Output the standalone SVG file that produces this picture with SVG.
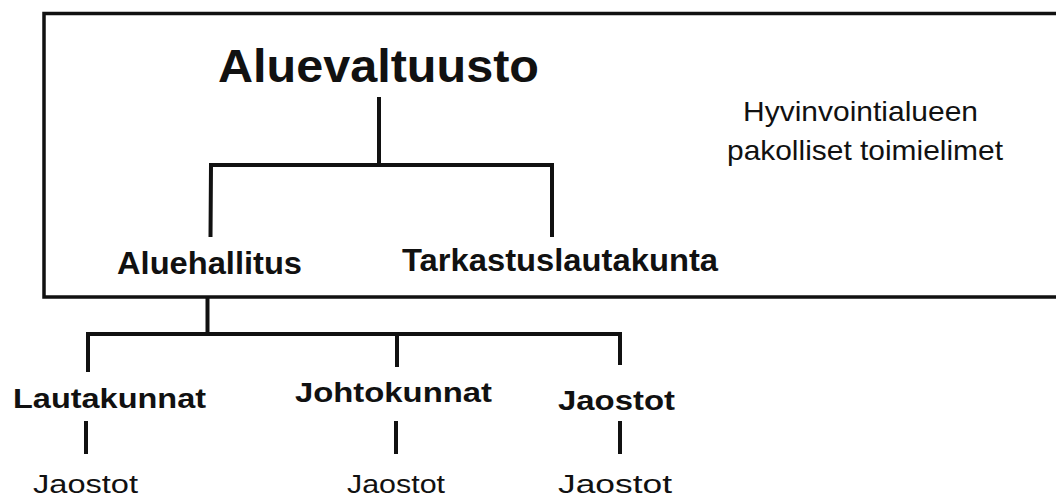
<svg xmlns="http://www.w3.org/2000/svg" width="1056" height="496" viewBox="0 0 1056 496">
<style>
.b{font-family:"Liberation Sans",Arial,Helvetica,sans-serif;font-weight:bold;fill:#111}
.r{font-family:"Liberation Sans",Arial,Helvetica,sans-serif;font-weight:normal;fill:#111}
.ln{stroke:#111;stroke-width:4;fill:none;stroke-linecap:butt;stroke-linejoin:miter}
.frame{stroke:#111;stroke-width:3.5;fill:none}
</style>
<rect width="1056" height="496" fill="#fff"/>
<g id="frame">
<rect class="frame" x="44" y="13.5" width="1100" height="283.5"/>
</g>
<g id="connectors">
<path class="ln" d="M379 97 V165"/>
<path class="ln" d="M210.5 237 L211 165 H552 V237"/>
<path class="ln" d="M207.5 297 V334"/>
<path class="ln" d="M88 372 V334 H620 V365"/>
<path class="ln" d="M397 334 V367"/>
<path class="ln" d="M86 421 V454"/>
<path class="ln" d="M396 421 V454"/>
<path class="ln" d="M620 421 V454"/>
</g>
<g id="aluevaltuusto"><text class="b" x="218" y="82" font-size="46" textLength="321" lengthAdjust="spacingAndGlyphs">Aluevaltuusto</text></g>
<g id="aluehallitus"><text class="b" x="117" y="274" font-size="31" textLength="185" lengthAdjust="spacingAndGlyphs">Aluehallitus</text></g>
<g id="tarkastuslautakunta"><text class="b" x="402" y="271" font-size="31" textLength="316" lengthAdjust="spacingAndGlyphs">Tarkastuslautakunta</text></g>
<g id="note">
<text class="r" x="743" y="121" font-size="28" textLength="235" lengthAdjust="spacingAndGlyphs">Hyvinvointialueen</text>
<text class="r" x="727" y="160" font-size="28" textLength="276" lengthAdjust="spacingAndGlyphs">pakolliset toimielimet</text>
</g>
<g id="lautakunnat"><text class="b" x="13" y="408" font-size="27" textLength="193" lengthAdjust="spacingAndGlyphs">Lautakunnat</text></g>
<g id="johtokunnat"><text class="b" x="295" y="402" font-size="28" textLength="197" lengthAdjust="spacingAndGlyphs">Johtokunnat</text></g>
<g id="jaostot"><text class="b" x="558" y="410" font-size="27.5" textLength="117" lengthAdjust="spacingAndGlyphs">Jaostot</text></g>
<g id="jaostot-1"><text class="r" x="33" y="493" font-size="25" textLength="105" lengthAdjust="spacingAndGlyphs">Jaostot</text></g>
<g id="jaostot-2"><text class="r" x="347" y="493" font-size="25" textLength="98" lengthAdjust="spacingAndGlyphs">Jaostot</text></g>
<g id="jaostot-3"><text class="r" x="558" y="493" font-size="25" textLength="114" lengthAdjust="spacingAndGlyphs">Jaostot</text></g>
</svg>
